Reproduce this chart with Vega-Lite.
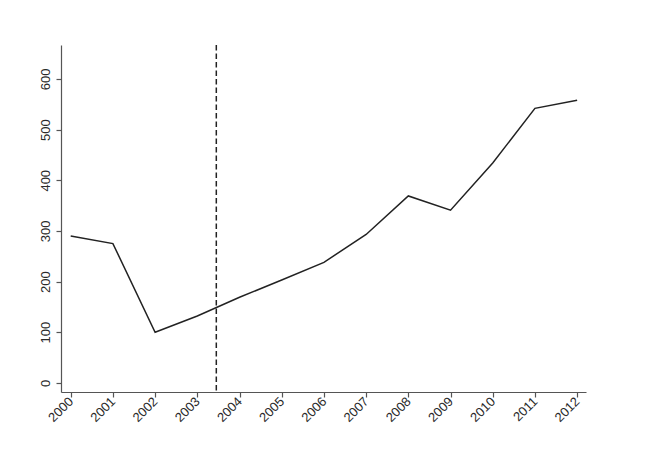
{
  "$schema": "https://vega.github.io/schema/vega-lite/v6.json",
  "width": 525,
  "height": 347,
  "autosize": {"type": "none"},
  "padding": {"left": 61, "top": 45, "right": 64, "bottom": 59},
  "background": "white",
  "config": {
    "view": {"stroke": null},
    "font": "Liberation Sans",
    "axis": {
      "domainColor": "#555555",
      "tickColor": "#555555",
      "labelColor": "#2a2a2a",
      "labelFont": "Liberation Sans",
      "labelFontSize": 13,
      "grid": false,
      "title": null,
      "tickSize": 5,
      "domainWidth": 1.2,
      "tickWidth": 1.2
    }
  },
  "datasets": {
    "series": [
      {"year": 2000, "value": 290},
      {"year": 2001, "value": 275},
      {"year": 2002, "value": 100},
      {"year": 2003, "value": 132},
      {"year": 2004, "value": 169},
      {"year": 2005, "value": 203},
      {"year": 2006, "value": 238},
      {"year": 2007, "value": 293},
      {"year": 2008, "value": 369},
      {"year": 2009, "value": 341},
      {"year": 2010, "value": 434},
      {"year": 2011, "value": 542},
      {"year": 2012, "value": 558}
    ],
    "cut": [{"year": 2003.45}]
  },
  "layer": [
    {
      "data": {"name": "series"},
      "mark": {"type": "line", "color": "#222222", "strokeWidth": 1.5},
      "encoding": {
        "x": {
          "field": "year",
          "type": "quantitative",
          "scale": {"domain": [1999.77, 2012.21], "nice": false, "zero": false},
          "axis": {
            "values": [2000, 2001, 2002, 2003, 2004, 2005, 2006, 2007, 2008, 2009, 2010, 2011, 2012],
            "format": "d",
            "labelAngle": -45,
            "labelAlign": "right",
            "labelBaseline": "middle",
            "labelPadding": 2,
            "labelOffset": 0
          }
        },
        "y": {
          "field": "value",
          "type": "quantitative",
          "scale": {"domain": [-18, 667], "nice": false, "zero": false},
          "axis": {
            "values": [0, 100, 200, 300, 400, 500, 600],
            "labelAngle": -90,
            "labelAlign": "center",
            "labelBaseline": "bottom",
            "labelPadding": 4
          }
        }
      }
    },
    {
      "data": {"name": "cut"},
      "mark": {"type": "rule", "color": "#222222", "strokeWidth": 1.5, "strokeDash": [5.5, 3]},
      "encoding": {
        "x": {"field": "year", "type": "quantitative"}
      }
    }
  ]
}
